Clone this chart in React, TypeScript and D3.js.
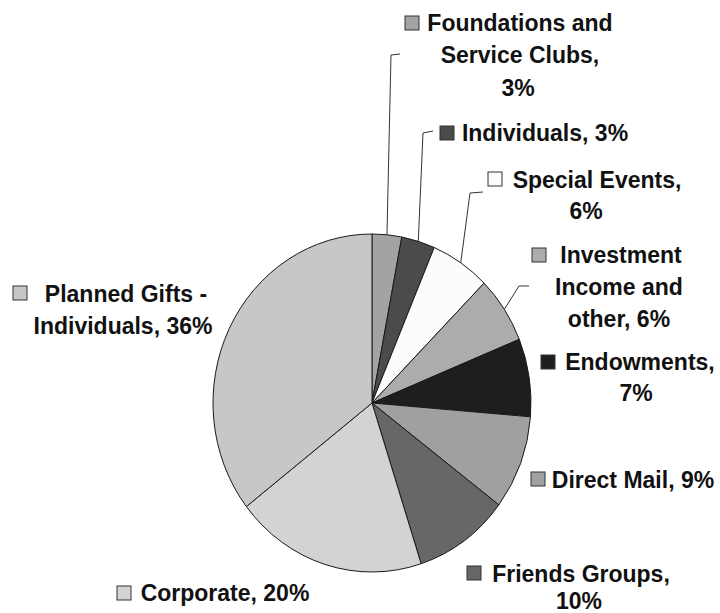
import React from "react";
import * as d3 from "d3";

const categories = [
  "Foundations and Service Clubs",
  "Individuals",
  "Special Events",
  "Investment Income and other",
  "Endowments",
  "Direct Mail",
  "Friends Groups",
  "Corporate",
  "Planned Gifts - Individuals",
];
const values = [3.0, 3.4, 6.05, 6.4, 7.45, 9.0, 9.7, 19.5, 35.5];
const colors = ["#a3a3a3", "#4b4b4b", "#fcfcfc", "#acacac", "#1e1e1e", "#a0a0a0", "#676767", "#d3d3d3", "#c7c7c7"];
// words per line in each wrapped label
const wordsPerLine = [[2, 2, 1], [2], [2, 1], [1, 2, 2], [1, 1], [3], [2, 1], [2], [3, 2]];

// label layout: marker top-left and [centerX, baseline] for each line
const labelLayout = [
  { marker: [405, 16], lines: [[520, 31], [520, 63], [518, 96]] },
  { marker: [440, 126], lines: [[545, 141]] },
  { marker: [488, 172], lines: [[597, 188], [586, 219]] },
  { marker: [532, 248], lines: [[621, 263], [619, 295], [619, 327]] },
  { marker: [541, 355], lines: [[640, 370], [636, 401]] },
  { marker: [531, 472], lines: [[633, 488]] },
  { marker: [467, 566], lines: [[581, 582], [579, 609]] },
  { marker: [117, 586], lines: [[225, 601]] },
  { marker: [13, 286], lines: [[126, 302], [123, 334]] },
];
// leader elbows for the small top slices: [bendX, bendY, endX, endY]
const leaders: (number[] | null)[] = [
  [391, 55, 400, 54],
  [423, 133, 433, 131],
  [470, 193, 483, 192],
  [519, 286, 529, 286],
  null, null, null, null, null,
];

const CX = 372;
const CY = 403;
const RX = 159;
const RY = 169;

export default function App() {
  const pie = d3.pie<number>().sort(null).value((d) => d).startAngle(0).endAngle(2 * Math.PI);
  const arcs = pie(values);
  const arcGen = d3.arc<d3.PieArcDatum<number>>().innerRadius(0).outerRadius(RX);
  const sy = RY / RX;

  const labelLines = categories.map((c, i) => {
    const words = `${c}, ${Math.round(values[i])}%`.split(" ");
    const out: string[] = [];
    let k = 0;
    for (const n of wordsPerLine[i]) {
      out.push(words.slice(k, k + n).join(" "));
      k += n;
    }
    return out;
  });

  return (
    <svg width={720} height={613} style={{ position: "absolute", left: 0, top: 0, background: "#fff" }}>
      <g transform={`translate(${CX},${CY}) scale(1,${sy})`}>
        {arcs.map((a, i) => (
          <path
            key={i}
            d={arcGen(a) || ""}
            fill={colors[i]}
            stroke="#1a1a1a"
            strokeWidth={1}
            vectorEffect="non-scaling-stroke"
          />
        ))}
      </g>
      {arcs.map((a, i) => {
        const l = leaders[i];
        if (!l) return null;
        const mid = (a.startAngle + a.endAngle) / 2;
        const x0 = CX + RX * Math.sin(mid);
        const y0 = CY - RY * Math.cos(mid);
        return (
          <polyline
            key={i}
            points={`${x0},${y0} ${l[0]},${l[1]} ${l[2]},${l[3]}`}
            fill="none"
            stroke="#333"
            strokeWidth={1}
          />
        );
      })}
      {labelLayout.map((lay, i) => (
        <g key={i}>
          <rect x={lay.marker[0]} y={lay.marker[1]} width={14} height={14} fill={colors[i]} stroke="#333" strokeWidth={1} />
          {labelLines[i].map((t, j) => (
            <text
              key={j}
              x={lay.lines[j][0]}
              y={lay.lines[j][1]}
              textAnchor="middle"
              fontFamily="'Liberation Sans', Arial, sans-serif"
              fontWeight="bold"
              fontSize={23}
              fill="#111"
            >
              {t}
            </text>
          ))}
        </g>
      ))}
    </svg>
  );
}
